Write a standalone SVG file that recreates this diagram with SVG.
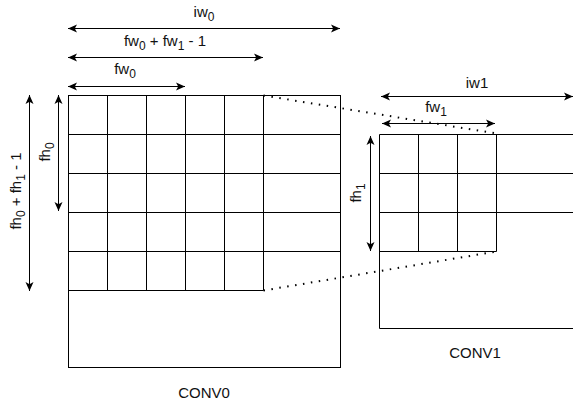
<svg xmlns="http://www.w3.org/2000/svg" width="573" height="406" viewBox="0 0 573 406">
<style>
.ln{stroke:#000;stroke-width:1;fill:none}
.dot{stroke:#000;stroke-width:2;fill:none;stroke-dasharray:1.5 6.5}
.arr{stroke:#000;stroke-width:1;fill:none;marker-start:url(#ah);marker-end:url(#ah)}
text{font-family:"Liberation Sans",Arial,sans-serif;font-size:15px;fill:#111}
.sub{font-size:12px}
</style>
<defs>
<marker id="ah" markerUnits="userSpaceOnUse" markerWidth="10" markerHeight="10" refX="9" refY="4" orient="auto-start-reverse" viewBox="0 0 10 8">
<path d="M0,0 L9,4 L0,8 L2.2,4 Z" fill="#000"/>
</marker>
</defs>
<rect width="573" height="406" fill="#fff"/>
<g id="conv0">
<rect class="ln" x="68.5" y="95.5" width="272" height="272"/>
<path class="ln" d="M68.5,134.5H340.5M68.5,173.5H340.5M68.5,212.5H340.5M68.5,251.5H340.5M68.5,290.5H263.5M107.5,95.5V290.5M146.5,95.5V290.5M185.5,95.5V290.5M224.5,95.5V290.5M263.5,95.5V290.5"/>
<text x="204" y="398" text-anchor="middle">CONV0</text>
</g>
<g id="conv1">
<path class="ln" d="M580,134.5H379.5V328.5H580"/>
<path class="ln" d="M379.5,173.5H580M379.5,212.5H580M379.5,251.5H496.5M418.5,134.5V251.5M457.5,134.5V251.5M496.5,134.5V251.5"/>
<text x="475" y="358" text-anchor="middle">CONV1</text>
</g>
<g id="connectors">
<path class="dot" d="M263.5,95.5L496.5,133.5"/>
<path class="dot" d="M263.5,290.5L496.5,251.5"/>
<path class="arr" d="M68,28.5H340"/>
<path class="arr" d="M68,57.5H263"/>
<path class="arr" d="M68,86.5H185"/>
<path class="arr" d="M58.5,95V211"/>
<path class="arr" d="M29.5,95V291"/>
<path class="arr" d="M381,96.5H573"/>
<path class="arr" d="M382,123.5H495"/>
<path class="arr" d="M370.5,136V251"/>
</g>
<g id="labels">
<text x="204" y="17" text-anchor="middle">iw<tspan class="sub" dy="4">0</tspan></text>
<text x="165" y="46" text-anchor="middle">fw<tspan class="sub" dy="4">0</tspan><tspan dy="-4"> + fw</tspan><tspan class="sub" dy="4">1</tspan><tspan dy="-4"> - 1</tspan></text>
<text x="125" y="74" text-anchor="middle">fw<tspan class="sub" dy="4">0</tspan></text>
<text transform="translate(50,152) rotate(-90)" text-anchor="middle">fh<tspan class="sub" dy="4">0</tspan></text>
<text transform="translate(21,191) rotate(-90)" text-anchor="middle">fh<tspan class="sub" dy="4">0</tspan><tspan dy="-4"> + fh</tspan><tspan class="sub" dy="4">1</tspan><tspan dy="-4"> - 1</tspan></text>
<text x="477" y="88" text-anchor="middle">iw1</text>
<text x="436" y="112" text-anchor="middle">fw<tspan class="sub" dy="4">1</tspan></text>
<text transform="translate(361,193) rotate(-90)" text-anchor="middle">fh<tspan class="sub" dy="4">1</tspan></text>
</g>
</svg>
